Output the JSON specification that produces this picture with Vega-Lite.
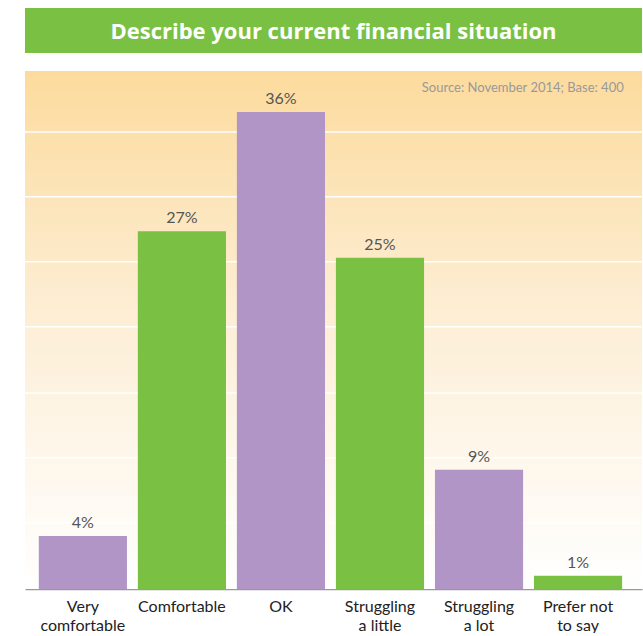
{
  "$schema": "https://vega.github.io/schema/vega-lite/v6.json",
  "padding": {"top": 8, "left": 24, "right": 2, "bottom": 0},
  "background": "#ffffff",
  "config": {
    "view": {"stroke": null},
    "font": "Lato",
    "concat": {"spacing": 18}
  },
  "vconcat": [
    {
      "width": 617,
      "height": 45,
      "data": {"values": [{"title": "Describe your current financial situation"}]},
      "layer": [
        {"mark": {"type": "rect", "fill": "#7AC143"}, "encoding": {}},
        {
          "mark": {"type": "text", "color": "#ffffff", "fontSize": 22, "fontWeight": "bold", "font": "Open Sans", "baseline": "middle", "align": "center", "dy": 1},
          "encoding": {"text": {"field": "title"}}
        }
      ]
    },
    {
      "width": 617,
      "height": 518,
      "title": {"text": "Source: November 2014; Base: 400", "anchor": "end", "orient": "top", "offset": -34, "dx": -19, "fontSize": 13, "fontWeight": "normal", "color": "#999999", "font": "Lato", "baseline": "alphabetic"},
      "layer": [
        {
          "data": {"values": [{"bg": 1}]},
          "mark": {"type": "rect", "fill": {"gradient": "linear", "x1": 0, "y1": 0, "x2": 0, "y2": 1, "stops": [{"offset": 0, "color": "#FCDB9D"}, {"offset": 0.5, "color": "#FDEFD8"}, {"offset": 1, "color": "#FFFFFF"}]}},
          "encoding": {}
        },
        {
          "data": {"values": [{"g": 0.05}, {"g": 0.099}, {"g": 0.148}, {"g": 0.198}, {"g": 0.247}, {"g": 0.296}, {"g": 0.345}]},
          "mark": {"type": "rule", "color": "#ffffff", "strokeWidth": 1.5},
          "encoding": {"y": {"field": "g", "type": "quantitative", "scale": {"domain": [0, 0.391]}, "axis": null}}
        },
        {
          "data": {"values": [
            {"category": "Very comfortable", "value": 0.04, "group": "a"},
            {"category": "Comfortable", "value": 0.27, "group": "b"},
            {"category": "OK", "value": 0.36, "group": "a"},
            {"category": "Struggling a little", "value": 0.25, "group": "b"},
            {"category": "Struggling a lot", "value": 0.09, "group": "a"},
            {"category": "Prefer not to say", "value": 0.01, "group": "b"}
          ]},
          "encoding": {
            "x": {
              "field": "category", "type": "nominal", "sort": null,
              "scale": {"paddingInner": 0.11, "paddingOuter": 0.17, "align": 0.41},
              "axis": {
                "title": null, "labelAngle": 0, "ticks": false, "tickSize": 0,
                "domainColor": "#999999", "domainWidth": 1.5,
                "labelFontSize": 16, "labelColor": "#222222", "labelPadding": 9,
                "labelLineHeight": 19, "labelBaseline": "top", "labelFont": "Lato",
                "labelExpr": "datum.value == 'Prefer not to say' ? ['Prefer not', 'to say'] : (indexof(datum.value, ' ') > 0 ? [slice(datum.value, 0, indexof(datum.value, ' ')), slice(datum.value, indexof(datum.value, ' ') + 1)] : datum.value)"
              }
            },
            "y": {"field": "value", "type": "quantitative", "scale": {"domain": [0, 0.391]}, "axis": null}
          },
          "layer": [
            {
              "mark": {"type": "bar"},
              "encoding": {
                "color": {"field": "group", "type": "nominal", "scale": {"domain": ["a", "b"], "range": ["#B295C7", "#7AC143"]}, "legend": null}
              }
            },
            {
              "mark": {"type": "text", "baseline": "alphabetic", "dy": -8, "fontSize": 16, "color": "#555555", "font": "Lato"},
              "encoding": {"text": {"field": "value", "type": "quantitative", "format": ".0%"}}
            }
          ]
        }
      ]
    }
  ]
}
